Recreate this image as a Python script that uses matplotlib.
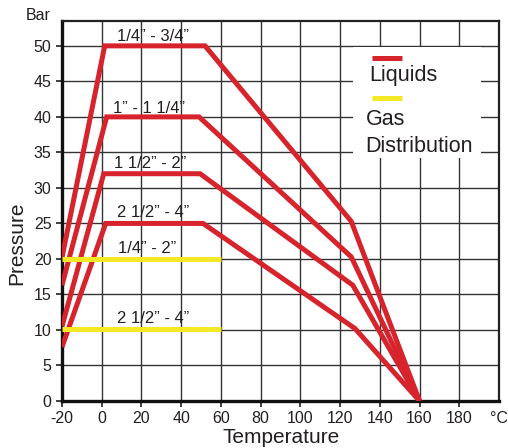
import matplotlib
matplotlib.use('Agg')
import matplotlib.pyplot as plt
from matplotlib.patches import Rectangle

plt.rcParams['font.family'] = ['Liberation Sans', 'DejaVu Sans']
plt.rcParams['axes.unicode_minus'] = False

# ---- data ----
liquid_labels = ['1/4\u201d - 3/4\u201d', '1\u201d - 1 1/4\u201d', '1 1/2\u201d - 2\u201d', '2 1/2\u201d - 4\u201d']
liquid_x = [
    [-20, 1.5, 52.0, 125.6, 160],
    [-20, 2.5, 49.0, 125.6, 160],
    [-20, 1.0, 49.5, 126.4, 160],
    [-20, 2.0, 51.0, 127.5, 160],
]
liquid_y = [
    [20.2, 50, 50, 25.3, 0],
    [16.3, 40, 40, 20.3, 0],
    [10.5, 32, 32, 16.3, 0],
    [7.6, 25, 25, 10.2, 0],
]
liquid_label_pos = [(25.7, 50.7), (23.7, 40.6), (24.2, 32.8), (25.7, 25.9)]

gas_labels = ['1/4\u201d - 2\u201d', '2 1/2\u201d - 4\u201d']
gas_x = [[-20, 60], [-20, 60]]
gas_y = [[20, 20], [10.2, 10.2]]
gas_label_pos = [(22.7, 20.8), (26.0, 11.0)]

x_ticks = [-20, 0, 20, 40, 60, 80, 100, 120, 140, 160, 180]
y_ticks = [0, 5, 10, 15, 20, 25, 30, 35, 40, 45, 50]

RED = '#D7232C'
YELLOW = '#F4E827'
DARK = '#231F20'

fig = plt.figure(figsize=(5.08, 4.48), dpi=100)
ax = fig.add_axes([62/508, 1-401/448, 437/508, 380/448])
ax.set_xlim(-20, 200)
ax.set_ylim(0, 53.5)
ax.set_axisbelow(True)

ax.set_xticks(x_ticks)
ax.set_yticks(y_ticks)
ax.tick_params(axis='both', direction='out', length=4, width=1.2, color=DARK,
               labelsize=11.5, labelcolor=DARK, pad=3.5)
ax.grid(True, color='#333333', linewidth=1.0)

for side in ['left', 'bottom']:
    ax.spines[side].set_linewidth(2.4)
    ax.spines[side].set_color('#111111')
for side in ['top', 'right']:
    ax.spines[side].set_linewidth(1.6)
    ax.spines[side].set_color('#222222')

# legend white box
ax.add_patch(Rectangle((126.4, 34.2), 190.9-126.4, 49.85-34.2, facecolor='white',
                       edgecolor='none', zorder=1))

for xs, ys in zip(liquid_x, liquid_y):
    ax.plot(xs, ys, color=RED, linewidth=3.6, solid_joinstyle='miter',
            solid_capstyle='butt', zorder=3)
for xs, ys in zip(gas_x, gas_y):
    ax.plot(xs, ys, color=YELLOW, linewidth=3.6, solid_capstyle='butt', zorder=4)

for lab, (lx, ly) in zip(liquid_labels, liquid_label_pos):
    ax.text(lx, ly, lab, ha='center', va='baseline', fontsize=12, color=DARK, zorder=5)
for lab, (lx, ly) in zip(gas_labels, gas_label_pos):
    ax.text(lx, ly, lab, ha='center', va='baseline', fontsize=12, color=DARK, zorder=5)

# legend
ax.plot([136.1, 151.2], [48.3, 48.3], color=RED, linewidth=3.6, solid_capstyle='butt', zorder=5)
ax.text(134.8, 45.1, 'Liquids', fontsize=15.5, color=DARK, va='baseline', ha='left', zorder=5)
ax.plot([136.1, 151.2], [42.6, 42.6], color=YELLOW, linewidth=3.6, solid_capstyle='butt', zorder=5)
ax.text(132.8, 38.9, 'Gas', fontsize=15.5, color=DARK, va='baseline', ha='left', zorder=5)
ax.text(132.8, 35.1, 'Distribution', fontsize=15.5, color=DARK, va='baseline', ha='left', zorder=5)

fig.text(38/508, 1-16/448, 'Bar', fontsize=11.5, color=DARK, ha='center', va='center')
fig.text(499/508, 1-418/448, '\u00b0C', fontsize=11.5, color=DARK, ha='center', va='center')
fig.text(17/508, 1-243/448, 'Pressure', fontsize=15, color=DARK, rotation=90,
         ha='center', va='center')
fig.text(281/508, 1-437/448, 'Temperature', fontsize=15, color=DARK, ha='center', va='center')

fig.savefig('out.png', dpi=100, facecolor='white')
